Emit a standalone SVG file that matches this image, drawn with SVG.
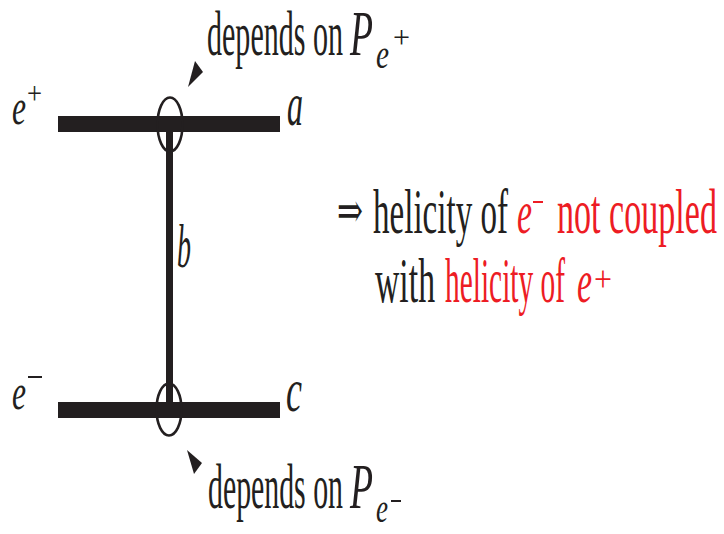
<svg xmlns="http://www.w3.org/2000/svg" width="724" height="534" viewBox="0 0 724 534">
<style>
text{font-family:"Liberation Serif",serif;fill:#231f20;}
.it{font-style:italic;}
.r{fill:#ed1c24;}
.bar{fill:#231f20;}
.ring{fill:none;stroke:#231f20;stroke-width:2.6;}
.tri{fill:#231f20;}
</style>
<rect width="724" height="534" fill="#ffffff"/>
<g id="connectors">
<rect class="bar" x="58" y="116" width="222" height="16"/>
<rect class="bar" x="58" y="402" width="222" height="16"/>
<rect class="bar" x="166" y="124" width="7" height="286"/>
<ellipse class="ring" cx="170" cy="124.5" rx="12.5" ry="27"/>
<ellipse class="ring" cx="169" cy="409.5" rx="12.5" ry="26"/>
<polygon class="tri" points="188,87 195,61 203,72"/>
<polygon class="tri" points="187,450 202,463 194,474"/>
</g>
<g id="node-eplus">
<text class="it" x="12" y="124" font-size="50" textLength="14" lengthAdjust="spacingAndGlyphs">e</text>
<text x="27" y="104" font-size="32" textLength="15" lengthAdjust="spacingAndGlyphs">+</text>
</g>
<g id="node-eminus">
<text class="it" x="12" y="409" font-size="50" textLength="14" lengthAdjust="spacingAndGlyphs">e</text>
<rect x="28" y="376" width="14" height="2" fill="#231f20"/>
</g>
<g id="node-a"><text class="it" x="287" y="125" font-size="62" textLength="16" lengthAdjust="spacingAndGlyphs">a</text></g>
<g id="node-c"><text class="it" x="286" y="411" font-size="62" textLength="16" lengthAdjust="spacingAndGlyphs">c</text></g>
<g id="node-b"><text class="it" x="177" y="267" font-size="62" textLength="14" lengthAdjust="spacingAndGlyphs">b</text></g>
<g id="label-top">
<text x="207" y="55" font-size="64" textLength="136" lengthAdjust="spacingAndGlyphs">depends on</text>
<text class="it" x="350" y="55" font-size="64" textLength="23" lengthAdjust="spacingAndGlyphs">P</text>
<text class="it" x="376" y="68" font-size="42" textLength="13" lengthAdjust="spacingAndGlyphs">e</text>
<text x="393" y="48" font-size="32" textLength="17" lengthAdjust="spacingAndGlyphs">+</text>
</g>
<g id="label-bottom">
<text x="208" y="508" font-size="63" textLength="135" lengthAdjust="spacingAndGlyphs">depends on</text>
<text class="it" x="350" y="508" font-size="63" textLength="23" lengthAdjust="spacingAndGlyphs">P</text>
<text class="it" x="376" y="522" font-size="42" textLength="12" lengthAdjust="spacingAndGlyphs">e</text>
<rect x="391" y="500" width="10" height="2" fill="#231f20"/>
</g>
<g id="statement">
<text x="337" y="227" font-size="48" textLength="26" lengthAdjust="spacingAndGlyphs" style="font-family:'DejaVu Serif',serif">⇒</text>
<text x="373" y="233" font-size="64" textLength="135" lengthAdjust="spacingAndGlyphs">helicity of</text>
<text class="it r" x="517" y="233" font-size="62" textLength="15" lengthAdjust="spacingAndGlyphs">e</text>
<rect x="533" y="201" width="10" height="2" fill="#ed1c24"/>
<text class="r" x="557" y="233" font-size="64" textLength="160" lengthAdjust="spacingAndGlyphs">not coupled</text>
<text x="375" y="302" font-size="64" textLength="60" lengthAdjust="spacingAndGlyphs">with</text>
<text class="r" x="445" y="302" font-size="64" textLength="120" lengthAdjust="spacingAndGlyphs">helicity of</text>
<text class="it r" x="577" y="302" font-size="62" textLength="15" lengthAdjust="spacingAndGlyphs">e</text>
<text class="r" x="594" y="291" font-size="36" textLength="18" lengthAdjust="spacingAndGlyphs">+</text>
</g>
</svg>
